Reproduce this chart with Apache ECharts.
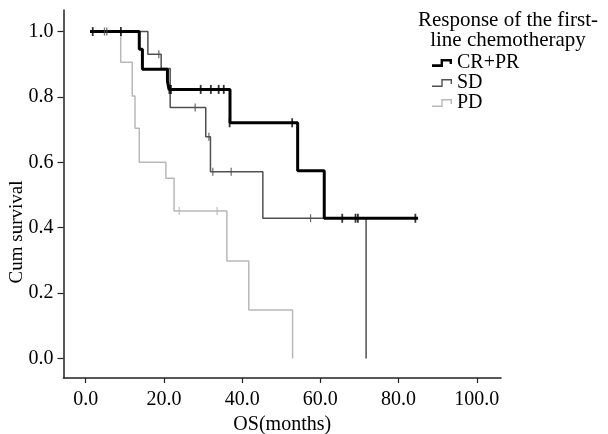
<!DOCTYPE html>
<html>
<head>
<meta charset="utf-8">
<script src="https://cdn.jsdelivr.net/npm/echarts@6/dist/echarts.min.js"></script>
<style>html,body{margin:0;padding:0;background:#fff;}#c{width:608px;height:434px;}</style>
</head>
<body>
<div id="c"></div>
<script>
// ---- data (months, cumulative survival) ----
const groupNames = ['CR+PR', 'SD', 'PD'];
const legendTitle = 'Response of the first-\nline chemotherapy';
const xTicks = [0, 20, 40, 60, 80, 100];
const yTicks = [0, 0.2, 0.4, 0.6, 0.8, 1.0];

// step points: [time, survival after that time]
const crprSteps = [[1.1,1.0],[13.7,0.946],[14.5,0.885],[20.9,0.848],[21.3,0.823],[36.9,0.721],[54.2,0.574],[61.0,0.429],[85.0,0.429]];
const sdSteps   = [[1.1,1.0],[15.9,0.931],[19.3,0.887],[21.6,0.768],[30.7,0.678],[31.9,0.571],[45.3,0.429],[71.7,0.0]];
const pdSteps   = [[1.1,1.0],[8.95,0.906],[11.9,0.803],[12.6,0.704],[13.7,0.600],[20.5,0.551],[22.6,0.451],[36.1,0.298],[41.7,0.148],[52.9,0.0]];

// censored observations
const crprCensor = [[1.8,1.0],[9.0,1.0],[21.4,0.823],[21.8,0.823],[29.4,0.823],[32.0,0.823],[34.0,0.823],[35.3,0.823],[36.8,0.721],[52.8,0.721],[65.6,0.429],[69.0,0.429],[69.6,0.429],[84.3,0.429]];
const sdCensor   = [[4.8,1.0],[5.4,1.0],[18.7,0.931],[28.0,0.768],[31.5,0.678],[32.5,0.571],[37.2,0.571],[57.5,0.429]];
const pdCensor   = [[23.9,0.451],[33.6,0.451]];

const colors = ['#000000', '#505050', '#b8b8b8'];
const widths = [3, 1.5, 1.5];
const FONT = '"Liberation Serif", "Times New Roman", serif';

const thickIcon = 'path://M0,5.2 L8.6,5.2 L8.6,0 L20,0 L20,5 L17.6,5 L17.6,2.6 L11,2.6 L11,8 L0,8 Z';
const thinIcon  = 'path://M0,6.6 L9.3,6.6 L9.3,0 L20,0 L20,5 L18.6,5 L18.6,1.4 L10.7,1.4 L10.7,8 L0,8 Z';

const stepSets = [crprSteps, sdSteps, pdSteps];
const censorSets = [crprCensor, sdCensor, pdCensor];

const series = [];
// draw light first so black is on top
[2, 1, 0].forEach(i => {
  series.push({
    name: groupNames[i], type: 'line', step: 'end', data: stepSets[i],
    showSymbol: false, symbol: 'none', color: colors[i],
    lineStyle: { color: colors[i], width: widths[i] }, z: 3 - i + 2, silent: true
  });
  series.push({
    name: groupNames[i] + ' censored', type: 'scatter', data: censorSets[i],
    symbol: 'rect', symbolSize: i === 0 ? [1.8, 9] : [1.3, 8],
    itemStyle: { color: colors[i] }, z: 3 - i + 3, silent: true
  });
});

const chart = echarts.init(document.getElementById('c'), null, { renderer: 'canvas' });
chart.setOption({
  animation: false,
  backgroundColor: '#fff',
  title: {
    text: legendTitle, left: 508, top: 10, padding: 0, textAlign: 'center',
    textStyle: { fontFamily: FONT, fontSize: 21, fontWeight: 'normal', color: '#000', lineHeight: 20 }
  },
  legend: {
    orient: 'vertical', left: 432, top: 53, padding: 0, itemGap: 0,
    itemWidth: 20, itemHeight: 8,
    data: [
      { name: groupNames[0], icon: thickIcon },
      { name: groupNames[1], icon: thinIcon },
      { name: groupNames[2], icon: thinIcon }
    ],
    textStyle: { fontFamily: FONT, fontSize: 20, color: '#000', lineHeight: 20 },
    selectedMode: false
  },
  grid: { left: 63.5, right: 107, top: 10, bottom: 56, containLabel: false, outerBoundsMode: 'none' },
  xAxis: {
    type: 'value', min: -5.68, max: 106.2,
    name: 'OS(months)', nameLocation: 'middle', nameGap: 34,
    nameTextStyle: { fontFamily: FONT, fontSize: 20, color: '#000' },
    axisLine: { show: true, onZero: false, lineStyle: { color: '#222', width: 1.5 } },
    axisTick: { show: true, customValues: xTicks, length: 5, lineStyle: { color: '#222', width: 1.2 } },
    axisLabel: { customValues: xTicks, formatter: v => Number(v).toFixed(1), margin: 12,
      fontFamily: FONT, fontSize: 20, color: '#000' },
    splitLine: { show: false }
  },
  yAxis: {
    type: 'value', min: -0.0597, max: 1.066,
    axisLine: { show: true, onZero: false, lineStyle: { color: '#222', width: 1.5 } },
    axisTick: { show: true, customValues: yTicks, length: 6, lineStyle: { color: '#222', width: 1.2 } },
    axisLabel: { customValues: yTicks, formatter: v => Number(v).toFixed(1), margin: 10,
      fontFamily: FONT, fontSize: 20, color: '#000' },
    splitLine: { show: false }
  },
  graphic: [{
    type: 'text', x: 17.5, y: 232, rotation: Math.PI / 2,
    style: { text: 'Cum survival', fontFamily: FONT, fontSize: 19, fill: '#000',
      align: 'center', verticalAlign: 'middle' }
  }],
  series: series
});
</script>
</body>
</html>
